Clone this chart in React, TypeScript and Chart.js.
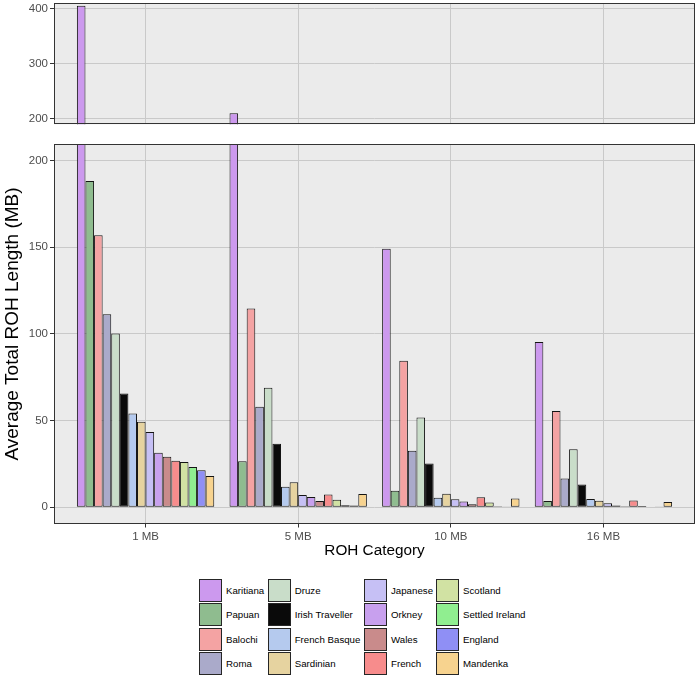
import React, { useEffect, useRef } from 'react';
import { Chart, registerables } from 'chart.js';

Chart.register(...registerables);

const FONT = '"Liberation Sans", Arial, Helvetica, sans-serif';

const categories = ['1 MB', '5 MB', '10 MB', '16 MB'];

const populations = [
  'Karitiana', 'Papuan', 'Balochi', 'Roma',
  'Druze', 'Irish Traveller', 'French Basque', 'Sardinian',
  'Japanese', 'Orkney', 'Wales', 'French',
  'Scotland', 'Settled Ireland', 'England', 'Mandenka',
];

const colors = [
  '#CC99EE', '#8FBC8F', '#F4A3A3', '#AAAACA',
  '#C9DDC9', '#0A0A0A', '#B5CAEE', '#E6D3A0',
  '#C6C0F5', '#C8A0EE', '#C98B8B', '#F78C8C',
  '#D1E2A3', '#90EE90', '#8F8FF5', '#F7D38F',
];

// values per ROH category, in the order of `populations`
const roh1MB = [405, 188.2, 157, 111.4, 100.3, 65.6, 54.1, 49.3, 43.5, 31.4, 29.1, 26.8, 26.2, 23.3, 21.4, 18.1];
const roh5MB = [210, 26.6, 114.7, 58, 68.9, 36.6, 11.9, 14.4, 7.1, 6, 3.7, 7.4, 4.3, 1.2, 1.0, 7.6];
const roh10MB = [149.2, 9.5, 84.5, 32.6, 51.8, 25.3, 5.5, 7.8, 4.6, 3.4, 1.7, 5.8, 2.8, 0.6, 0.5, 5.1];
const roh16MB = [95.3, 3.7, 55.6, 16.6, 33.5, 13.1, 4.8, 3.8, 2.4, 1.1, 0.6, 3.9, 0.7, 0.3, 0.4, 3.0];

const upperTicks = [200, 300, 400];
const lowerTicks = [0, 50, 100, 150, 200];

const yTitle = 'Average Total ROH Length (MB)';
const xTitle = 'ROH Category';

const categoryValues = [roh1MB, roh5MB, roh10MB, roh16MB];

const panelPlugin = {
  id: 'panelBg',
  beforeDraw(chart: any) {
    const { ctx, chartArea: a } = chart;
    ctx.save();
    ctx.fillStyle = '#EBEBEB';
    ctx.fillRect(a.left, a.top, a.right - a.left, a.bottom - a.top);
    ctx.restore();
  },
  afterDraw(chart: any) {
    const { ctx, chartArea: a } = chart;
    ctx.save();
    ctx.strokeStyle = '#333333';
    ctx.lineWidth = 1;
    ctx.strokeRect(Math.round(a.left) + 0.5, Math.round(a.top) + 0.5, Math.round(a.right - a.left) - 1, Math.round(a.bottom - a.top) - 1);
    const t = chart.options.plugins.panelBg;
    if (t && t.yTitle) {
      ctx.translate(t.x, t.y);
      ctx.rotate(-Math.PI / 2);
      ctx.fillStyle = '#000000';
      ctx.font = `${t.size}px ${FONT}`;
      ctx.textAlign = 'center';
      ctx.textBaseline = 'middle';
      ctx.fillText(t.yTitle, 0, 0);
    }
    ctx.restore();
  },
};

function makeDatasets() {
  return populations.map((name, i) => ({
    label: name,
    data: categoryValues.map((vals, j) => ({ x: j + 1, y: vals[i] })),
    backgroundColor: colors[i],
    borderColor: '#141414',
    borderWidth: 1,
    borderSkipped: false as any,
    categoryPercentage: 0.9,
    barPercentage: 1,
    clip: 0,
  }));
}

function makeConfig(opts: { min: number; max: number; ticks: number[]; showX: boolean; padding: any; xHeight: number }) {
  const { min, max, ticks, showX, padding, xHeight } = opts;
  return {
    type: 'bar' as const,
    data: { datasets: makeDatasets() },
    plugins: [panelPlugin],
    options: {
      animation: false as const,
      responsive: false,
      maintainAspectRatio: false,
      layout: { padding },
      plugins: {
        legend: { display: false },
        tooltip: { enabled: false },
        panelBg: showX ? { yTitle, x: 13, y: 194, size: 19 } : {},
      },
      scales: {
        x: {
          type: 'linear' as const,
          min: 0.4,
          max: 4.6,
          offset: false,
          afterBuildTicks: (s: any) => {
            s.ticks = categories.map((_, j) => ({ value: j + 1 }));
          },
          afterFit: (s: any) => {
            s.height = xHeight;
            s.paddingLeft = 0;
            s.paddingRight = 0;
          },
          ticks: {
            display: showX,
            autoSkip: false,
            maxRotation: 0,
            padding: 2,
            color: '#4D4D4D',
            font: { size: 11.5, family: FONT },
            callback: (v: any) => categories[Math.round(Number(v)) - 1] ?? '',
          },
          grid: { offset: false, color: '#C9C9C9', lineWidth: 1, drawTicks: showX, tickLength: 4, tickColor: '#333333' },
          border: { display: false },
          title: {
            display: showX,
            text: xTitle,
            color: '#000000',
            font: { size: 15.3, family: FONT },
            padding: { top: 0, bottom: 0 },
          },
        },
        y: {
          min,
          max,
          afterBuildTicks: (s: any) => {
            s.ticks = ticks.map((v) => ({ value: v }));
          },
          afterFit: (s: any) => {
            s.width = 54;
            s.paddingTop = 0;
            s.paddingBottom = 0;
          },
          ticks: {
            padding: 2,
            color: '#4D4D4D',
            font: { size: 11.5, family: FONT },
          },
          grid: { color: '#C9C9C9', lineWidth: 1, drawTicks: true, tickLength: 4, tickColor: '#333333' },
          border: { display: false },
        },
      },
    },
  };
}

const legendCols = [199, 267.7, 364, 436];
const legendTop = 579;
const legendRow = 24.3;

export default function App() {
  const topRef = useRef<HTMLCanvasElement>(null);
  const bottomRef = useRef<HTMLCanvasElement>(null);

  useEffect(() => {
    Chart.defaults.font.family = FONT;
    const top = new Chart(topRef.current as HTMLCanvasElement, makeConfig({
      min: 190, max: 410, ticks: upperTicks, showX: false,
      padding: { top: 3, right: 2, bottom: 3.7, left: 0 }, xHeight: 0,
    }) as any);
    const bottom = new Chart(bottomRef.current as HTMLCanvasElement, makeConfig({
      min: -9.35, max: 209.6, ticks: lowerTicks, showX: true,
      padding: { top: 14, right: 2, bottom: 0, left: 0 }, xHeight: 36.5,
    }) as any);
    return () => {
      top.destroy();
      bottom.destroy();
    };
  }, []);

  return (
    <div style={{ position: 'absolute', left: 0, top: 0, width: 697, height: 678, overflow: 'hidden', background: '#FFFFFF', fontFamily: FONT }}>
      <canvas ref={topRef} width={697} height={128} style={{ position: 'absolute', left: 0, top: 0, width: 697, height: 128 }} />
      <canvas ref={bottomRef} width={697} height={430} style={{ position: 'absolute', left: 0, top: 130, width: 697, height: 430 }} />
      {populations.map((name, i) => {
        const col = Math.floor(i / 4);
        const row = i % 4;
        return (
          <div
            key={name}
            style={{
              position: 'absolute',
              left: legendCols[col],
              top: legendTop + row * legendRow,
              height: 23,
              display: 'flex',
              alignItems: 'center',
              whiteSpace: 'nowrap',
            }}
          >
            <div
              style={{
                width: 23,
                height: 23,
                boxSizing: 'border-box',
                border: '1.5px solid #262626',
                background: colors[i],
                flex: '0 0 auto',
              }}
            />
            <span style={{ marginLeft: 4, fontSize: 9.7, color: '#000000', lineHeight: '23px' }}>{name}</span>
          </div>
        );
      })}
    </div>
  );
}
